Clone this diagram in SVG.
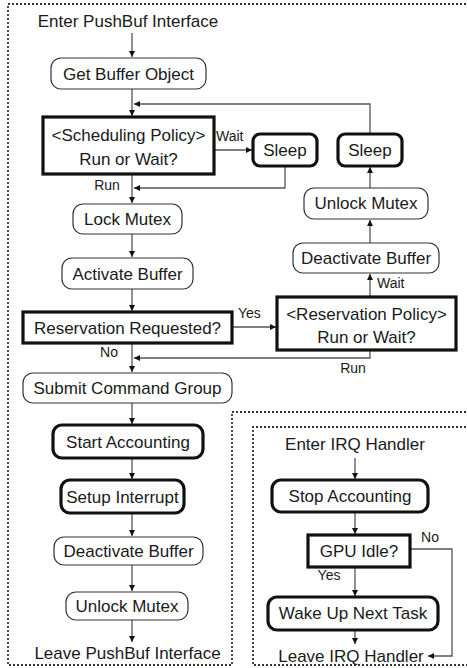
<svg xmlns="http://www.w3.org/2000/svg" width="467" height="668" viewBox="0 0 467 668">
<style>
  text { font-family: "Liberation Sans", Arial, sans-serif; font-size: 17px; fill: #1a1a1a; text-anchor: middle; }
  text.lbl { font-size: 14px; }
  text.st { text-anchor: start; }
  .thin { fill: #fff; stroke: #333; stroke-width: 1.2; }
  .thick { fill: #fff; stroke: #111; stroke-width: 3.2; }
  .conn { fill: none; stroke: #555; stroke-width: 1.3; }
  .dot { fill: none; stroke: #333; stroke-width: 1.8; stroke-dasharray: 2 2; }
</style>
<defs>
  <marker id="ah" viewBox="0 0 8 8" refX="8" refY="4" markerWidth="7" markerHeight="6" orient="auto" markerUnits="userSpaceOnUse">
    <path d="M0,0 L8,4 L0,8 z" fill="#111"/>
  </marker>
</defs>
<rect width="467" height="668" fill="#fff"/>

<g id="borders">
  <path class="dot" d="M470,4 H8 V665 H232 V412 H470"/>
  <path class="dot" d="M470,427 H253 V665 H470"/>
</g>

<g id="connectors">
  <line class="conn" x1="132" y1="33" x2="132" y2="57" marker-end="url(#ah)"/>
  <line class="conn" x1="132" y1="89" x2="132" y2="116" marker-end="url(#ah)"/>
  <line class="conn" x1="214" y1="150" x2="252" y2="150" marker-end="url(#ah)"/>
  <path class="conn" d="M285,166 V188 H134" marker-end="url(#ah)"/>
  <line class="conn" x1="132" y1="174" x2="132" y2="203" marker-end="url(#ah)"/>
  <line class="conn" x1="132" y1="234" x2="132" y2="257" marker-end="url(#ah)"/>
  <line class="conn" x1="132" y1="289" x2="132" y2="311" marker-end="url(#ah)"/>
  <line class="conn" x1="232" y1="327" x2="276" y2="327" marker-end="url(#ah)"/>
  <path class="conn" d="M370,350 V358 H134" marker-end="url(#ah)"/>
  <line class="conn" x1="132" y1="343" x2="132" y2="372" marker-end="url(#ah)"/>
  <line class="conn" x1="370" y1="297" x2="370" y2="274" marker-end="url(#ah)"/>
  <line class="conn" x1="370" y1="243" x2="370" y2="220" marker-end="url(#ah)"/>
  <line class="conn" x1="370" y1="188" x2="370" y2="167" marker-end="url(#ah)"/>
  <path class="conn" d="M370,134 V104 H134" marker-end="url(#ah)"/>
  <line class="conn" x1="132" y1="403" x2="132" y2="424" marker-end="url(#ah)"/>
  <line class="conn" x1="132" y1="458" x2="132" y2="479" marker-end="url(#ah)"/>
  <line class="conn" x1="132" y1="513" x2="132" y2="536" marker-end="url(#ah)"/>
  <line class="conn" x1="132" y1="565" x2="132" y2="591" marker-end="url(#ah)"/>
  <line class="conn" x1="132" y1="620" x2="132" y2="642" marker-end="url(#ah)"/>
  <line class="conn" x1="355" y1="458" x2="355" y2="479" marker-end="url(#ah)"/>
  <line class="conn" x1="355" y1="512" x2="355" y2="534" marker-end="url(#ah)"/>
  <line class="conn" x1="355" y1="567" x2="355" y2="596" marker-end="url(#ah)"/>
  <line class="conn" x1="355" y1="630" x2="355" y2="644" marker-end="url(#ah)"/>
  <path class="conn" d="M410,549 H452 V656 H428" marker-end="url(#ah)"/>
  <text class="lbl st" x="216" y="141">Wait</text>
  <text class="lbl" x="107" y="190">Run</text>
  <text class="lbl" x="109" y="357">No</text>
  <text class="lbl st" x="238" y="318">Yes</text>
  <text class="lbl" x="353" y="373">Run</text>
  <text class="lbl st" x="377" y="288">Wait</text>
  <text class="lbl" x="430" y="542">No</text>
  <text class="lbl" x="329" y="580">Yes</text>
</g>

<g id="enter-pushbuf"><text x="128" y="27">Enter PushBuf Interface</text></g>
<g id="get-buffer"><rect class="thin" x="51" y="58" width="155" height="31" rx="10"/><text x="128.5" y="79.5">Get Buffer Object</text></g>
<g id="sched-policy"><rect class="thick" x="43" y="117" width="171" height="57"/><text x="128.5" y="141">&lt;Scheduling Policy&gt;</text><text x="128.5" y="165">Run or Wait?</text></g>
<g id="sleep1"><rect class="thick" x="253" y="134" width="64" height="32" rx="7"/><text x="285" y="156">Sleep</text></g>
<g id="sleep2"><rect class="thick" x="338" y="134" width="64" height="32" rx="7"/><text x="370" y="156">Sleep</text></g>
<g id="unlock-right"><rect class="thin" x="304" y="188" width="124" height="31" rx="10"/><text x="366" y="209">Unlock Mutex</text></g>
<g id="deact-right"><rect class="thin" x="293" y="243" width="146" height="30" rx="10"/><text x="366" y="264">Deactivate Buffer</text></g>
<g id="lock-mutex"><rect class="thin" x="73" y="204" width="109" height="30" rx="10"/><text x="127.5" y="225">Lock Mutex</text></g>
<g id="activate-buffer"><rect class="thin" x="62" y="258" width="131" height="31" rx="10"/><text x="127.5" y="279.5">Activate Buffer</text></g>
<g id="res-requested"><rect class="thick" x="23" y="312" width="209" height="31"/><text x="127.5" y="333.5">Reservation Requested?</text></g>
<g id="res-policy"><rect class="thick" x="277" y="297" width="179" height="53"/><text x="366.5" y="320">&lt;Reservation Policy&gt;</text><text x="366.5" y="343">Run or Wait?</text></g>
<g id="submit"><rect class="thin" x="23" y="373" width="209" height="30" rx="10"/><text x="127.5" y="394">Submit Command Group</text></g>
<g id="start-acc"><rect class="thick" x="53" y="425" width="150" height="33" rx="9"/><text x="128" y="447.5">Start Accounting</text></g>
<g id="setup-int"><rect class="thick" x="61" y="480" width="123" height="33" rx="9"/><text x="122.5" y="502.5">Setup Interrupt</text></g>
<g id="deact-left"><rect class="thin" x="54" y="537" width="149" height="28" rx="10"/><text x="128.5" y="557">Deactivate Buffer</text></g>
<g id="unlock-left"><rect class="thin" x="66" y="592" width="122" height="28" rx="10"/><text x="127" y="612">Unlock Mutex</text></g>
<g id="leave-pushbuf"><text x="127.5" y="659">Leave PushBuf Interface</text></g>
<g id="enter-irq"><text x="355" y="450">Enter IRQ Handler</text></g>
<g id="stop-acc"><rect class="thick" x="272" y="480" width="156" height="32" rx="9"/><text x="350" y="502">Stop Accounting</text></g>
<g id="gpu-idle"><rect class="thick" x="308" y="535" width="102" height="32"/><text x="359" y="557">GPU Idle?</text></g>
<g id="wake-up"><rect class="thick" x="268" y="597" width="170" height="33" rx="9"/><text x="353" y="619">Wake Up Next Task</text></g>
<g id="leave-irq"><text x="351" y="662">Leave IRQ Handler</text></g>
</svg>
